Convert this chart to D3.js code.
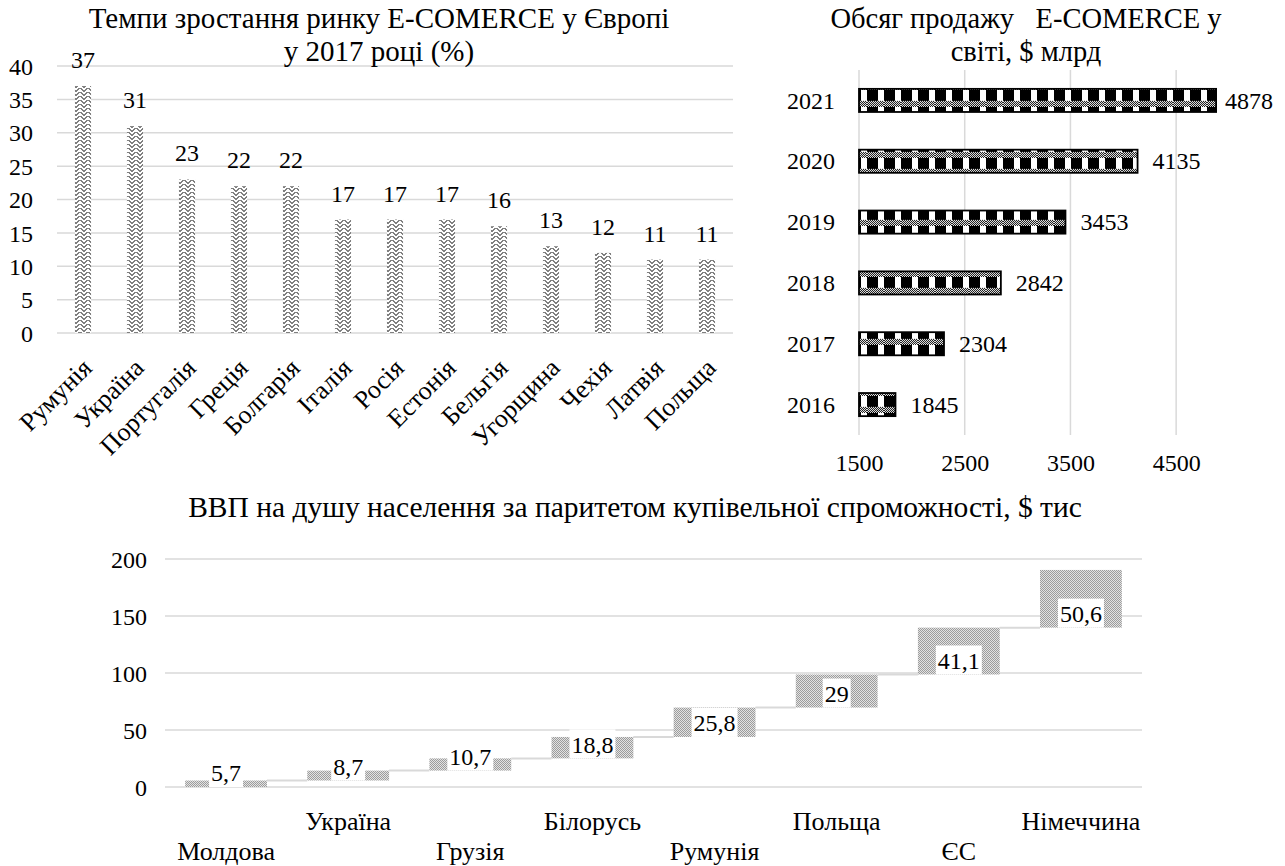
<!DOCTYPE html>
<html><head><meta charset="utf-8">
<script src="https://cdn.jsdelivr.net/npm/d3@7"></script>
<style>
body{margin:0;background:#fff}
svg{display:block}
text{font-family:"Liberation Serif","Times New Roman",serif;fill:#000}
</style>
</head><body>
<svg id="c" width="1285" height="866" style="font-family:'Liberation Serif',serif"></svg>
<script>
// ---------- DATA ----------
const growthCountries = ["Румунія","Україна","Португалія","Греція","Болгарія","Італія","Росія","Естонія","Бельгія","Угорщина","Чехія","Латвія","Польща"];
const growthValues = [37,31,23,22,22,17,17,17,16,13,12,11,11];
const growthTicks = [0,5,10,15,20,25,30,35,40];
const growthTitle = ["Темпи зростання ринку E-COMERCE у Європі","у 2017 році (%)"];

const salesYears = ["2016","2017","2018","2019","2020","2021"];
const salesValues = [1845,2304,2842,3453,4135,4878];
const salesTicks = [1500,2500,3500,4500];
const salesTitle = ["Обсяг продажу   E-COMERCE у","світі, $ млрд"];

const gdpCountries = ["Молдова","Україна","Грузія","Білорусь","Румунія","Польща","ЄС","Німеччина"];
const gdpValues = [5.7,8.7,10.7,18.8,25.8,29,41.1,50.6];
const gdpTicks = [0,50,100,150,200];
const gdpTitle = "ВВП на душу населення за паритетом купівельної спроможності, $ тис";

// ---------- SETUP ----------
const svg = d3.select("#c");
const GRID = "#d9d9d9";
const FONT = "'Liberation Serif', 'Times New Roman', serif";
const defs = svg.append("defs");

// zigzag pattern (top-left bars)
const zigRows = ["xx....xx",".xx..xx.","..xxxx..","...xx...","xx....xx",".xx..xx.","..xxxx..","...xx..."];
const pz = defs.append("pattern").attr("id","zig").attr("patternUnits","userSpaceOnUse").attr("width",8).attr("height",8);
pz.append("rect").attr("width",8).attr("height",8).attr("fill","#fff");
zigRows.forEach((r,yy)=>r.split("").forEach((c,xx)=>{ if(c==="x") pz.append("rect").attr("x",xx).attr("y",yy).attr("width",1).attr("height",1).attr("fill","#808080"); }));

// checker pattern (top-right bars)
const pc = defs.append("pattern").attr("id","chk").attr("patternUnits","userSpaceOnUse").attr("width",17).attr("height",17);
pc.append("rect").attr("width",17).attr("height",17).attr("fill","#fff");
pc.append("rect").attr("width",11).attr("height",11).attr("fill","#000");
for(let yy=11; yy<17; yy++) for(let xx=0; xx<17; xx++) if((xx+yy)%2===0) pc.append("rect").attr("x",xx).attr("y",yy).attr("width",1).attr("height",1).attr("fill","#000");

// stipple pattern (bottom bars)
const ps = defs.append("pattern").attr("id","stp").attr("patternUnits","userSpaceOnUse").attr("width",2).attr("height",2);
ps.append("rect").attr("width",2).attr("height",2).attr("fill","#e2e2e2");
ps.append("rect").attr("width",1).attr("height",1).attr("fill","#9c9c9c");
ps.append("rect").attr("x",1).attr("y",1).attr("width",1).attr("height",1).attr("fill","#9c9c9c");

function styleAxisText(ax){
  ax.attr("font-family",FONT);
  ax.select(".domain").remove();
  ax.selectAll("text").attr("font-size",24).style("font-family",FONT);
}

// ---------- CHART 1: growth ----------
{
  const g = svg.append("g");
  const x = d3.scaleBand().domain(growthCountries).range([57,733]).paddingInner(0.69).paddingOuter(0.345);
  const y = d3.scaleLinear().domain([0,40]).range([333,66]);
  g.selectAll("line.grid").data(growthTicks).join("line")
    .attr("x1",57).attr("x2",733).attr("y1",d=>y(d)).attr("y2",d=>y(d))
    .attr("stroke",GRID).attr("stroke-width",1.5);
  const ax = g.append("g").attr("transform","translate(57,0)")
    .call(d3.axisLeft(y).tickValues(growthTicks).tickSize(0).tickPadding(24));
  styleAxisText(ax);
  ax.selectAll("text").attr("dy","0.34em");
  g.selectAll("rect.bar").data(growthValues).join("rect")
    .attr("x",(d,i)=>x(growthCountries[i])).attr("width",x.bandwidth())
    .attr("y",d=>y(d)).attr("height",d=>y(0)-y(d)).attr("fill","url(#zig)");
  g.selectAll("text.val").data(growthValues).join("text")
    .attr("x",(d,i)=>x(growthCountries[i])+x.bandwidth()/2).attr("y",d=>y(d)-18)
    .attr("text-anchor","middle").attr("font-size",24).text(d=>d);
  g.selectAll("text.cat").data(growthCountries).join("text")
    .attr("transform",d=>`translate(${x(d)+x.bandwidth()/2+4},363) rotate(-45)`)
    .attr("text-anchor","end").attr("dy","0.35em").attr("font-size",26).text(d=>d);
  g.selectAll("text.title").data(growthTitle).join("text")
    .attr("x",379).attr("y",(d,i)=>28+i*33).attr("text-anchor","middle").attr("font-size",29).text(d=>d);
}

// ---------- CHART 2: sales ----------
{
  const g = svg.append("g");
  const y = d3.scaleBand().domain(salesYears.slice().reverse()).range([70,435]).paddingInner(0.62).paddingOuter(0.31);
  const x = d3.scaleLinear().domain([1500,5000]).range([859,1229]);
  g.selectAll("line.grid").data(salesTicks).join("line")
    .attr("x1",d=>x(d)).attr("x2",d=>x(d)).attr("y1",70).attr("y2",435)
    .attr("stroke",GRID).attr("stroke-width",1.5);
  const ax = g.append("g").attr("transform","translate(0,435)")
    .call(d3.axisBottom(x).tickValues(salesTicks).tickSize(0).tickPadding(19).tickFormat(d3.format("d")));
  styleAxisText(ax);
  const ay = g.append("g").attr("transform","translate(859,0)")
    .call(d3.axisLeft(y).tickSize(0).tickPadding(24));
  styleAxisText(ay);
  ay.selectAll("text").attr("dy","0.34em");
  defs.select("#chk").attr("y", y(salesYears[salesYears.length-1])+1);
  g.selectAll("rect.bar").data(salesValues).join("rect")
    .attr("x",x(1500)).attr("width",d=>x(d)-x(1500))
    .attr("y",(d,i)=>y(salesYears[i])).attr("height",y.bandwidth())
    .attr("fill","url(#chk)").attr("stroke","#000").attr("stroke-width",1.8);
  const vt = g.selectAll("text.val").data(salesValues).join("text")
    .attr("y",(d,i)=>y(salesYears[i])+y.bandwidth()/2).attr("dy","0.34em")
    .attr("font-size",24).text(d=>d);
  vt.each(function(d){ const w=this.getComputedTextLength(); d3.select(this).attr("x", Math.min(x(d)+15, 1273-w)); });
  g.selectAll("text.title").data(salesTitle).join("text")
    .attr("x",1026).attr("y",(d,i)=>28+i*33).attr("text-anchor","middle").attr("font-size",28.5)
    .style("white-space","pre").text(d=>d);
}

// ---------- CHART 3: GDP waterfall ----------
{
  const g = svg.append("g");
  const x = d3.scaleBand().domain(gdpCountries).range([165,1142]).paddingInner(0.33).paddingOuter(0.165);
  const y = d3.scaleLinear().domain([0,200]).range([787,559]);
  const ends = Array.from(d3.cumsum(gdpValues));
  const starts = ends.map((e,i)=>e-gdpValues[i]);
  g.selectAll("line.grid").data(gdpTicks).join("line")
    .attr("x1",165).attr("x2",1142).attr("y1",d=>y(d)).attr("y2",d=>y(d))
    .attr("stroke",GRID).attr("stroke-width",1.5);
  const ax = g.append("g").attr("transform","translate(165,0)")
    .call(d3.axisLeft(y).tickValues(gdpTicks).tickSize(0).tickPadding(18));
  styleAxisText(ax);
  ax.selectAll("text").attr("dy","0.34em");
  // connectors
  g.selectAll("line.conn").data(ends.slice(0,-1)).join("line")
    .attr("x1",(d,i)=>x(gdpCountries[i])+x.bandwidth()).attr("x2",(d,i)=>x(gdpCountries[i+1]))
    .attr("y1",d=>y(d)).attr("y2",d=>y(d)).attr("stroke",GRID).attr("stroke-width",2);
  g.selectAll("rect.bar").data(gdpValues).join("rect")
    .attr("x",(d,i)=>x(gdpCountries[i])).attr("width",x.bandwidth())
    .attr("y",(d,i)=>y(ends[i])).attr("height",(d,i)=>y(starts[i])-y(ends[i]))
    .attr("fill","url(#stp)");
  const lg = g.selectAll("g.lbl").data(gdpValues).join("g")
    .attr("transform",(d,i)=>`translate(${x(gdpCountries[i])+x.bandwidth()/2},${y(starts[i])})`);
  lg.append("rect").attr("fill","#fff");
  const lt = lg.append("text").attr("y",-14).attr("dy","0.34em").attr("text-anchor","middle")
    .attr("font-size",24).text(d=>String(d).replace(".",","));
  lt.each(function(){ const w=this.getComputedTextLength(); d3.select(this.parentNode).select("rect")
      .attr("x",-w/2-2).attr("width",w+4).attr("y",-29).attr("height",29); });
  g.selectAll("text.cat").data(gdpCountries).join("text")
    .attr("x",d=>x(d)+x.bandwidth()/2).attr("y",(d,i)=> i%2===0 ? 860 : 830)
    .attr("text-anchor","middle").attr("font-size",26).text(d=>d);
  g.append("text").attr("x",635).attr("y",517).attr("text-anchor","middle").attr("font-size",29.5).text(gdpTitle);
}
</script>
</body></html>
